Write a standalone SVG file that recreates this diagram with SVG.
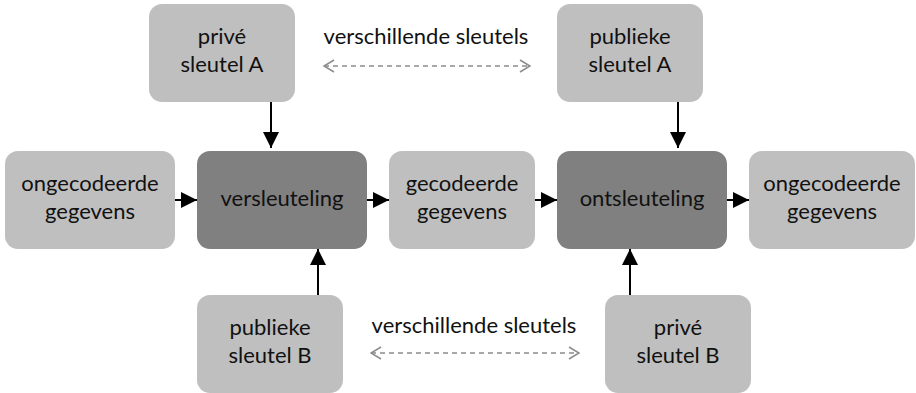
<svg xmlns="http://www.w3.org/2000/svg" width="916" height="393" viewBox="0 0 916 393">
<style>
.light{fill:#bfbfbf}
.dark{fill:#808080}
text{font-family:Lato,"Liberation Sans",Arial,sans-serif;font-size:22px;fill:#111;text-anchor:middle}
.conn{stroke:#000;stroke-width:2;fill:none}
.dash{stroke:#8c8c8c;stroke-width:1.5;stroke-dasharray:5 4;fill:none}
</style>
<defs>
<marker id="big" viewBox="0 0 16 16" refX="16" refY="8" markerWidth="16" markerHeight="16" markerUnits="userSpaceOnUse" orient="auto">
<path d="M0,0 L16,8 L0,16 z" fill="#000"/>
</marker>
<marker id="open" viewBox="0 0 12 14" refX="11" refY="7" markerWidth="12" markerHeight="14" markerUnits="userSpaceOnUse" orient="auto-start-reverse">
<path d="M1,1 L11,7 L1,13" fill="none" stroke="#8c8c8c" stroke-width="1.5"/>
</marker>
</defs>
<g id="prive-a"><rect class="light" x="149" y="4" width="146" height="98" rx="13"/><text x="222" y="44">privé</text><text x="222" y="72">sleutel A</text></g>
<g id="publieke-a"><rect class="light" x="557" y="4" width="146" height="98" rx="13"/><text x="630" y="44">publieke</text><text x="630" y="72">sleutel A</text></g>
<g id="ongecodeerde-in"><rect class="light" x="5" y="151" width="170" height="98" rx="13"/><text x="90" y="191">ongecodeerde</text><text x="90" y="219">gegevens</text></g>
<g id="versleuteling"><rect class="dark" x="197" y="151" width="170" height="98" rx="13"/><text x="282" y="206">versleuteling</text></g>
<g id="gecodeerde"><rect class="light" x="389" y="151" width="146" height="98" rx="13"/><text x="462" y="191">gecodeerde</text><text x="462" y="219">gegevens</text></g>
<g id="ontsleuteling"><rect class="dark" x="557" y="151" width="170" height="98" rx="13"/><text x="642" y="206">ontsleuteling</text></g>
<g id="ongecodeerde-out"><rect class="light" x="749" y="151" width="166" height="98" rx="13"/><text x="832" y="191">ongecodeerde</text><text x="832" y="219">gegevens</text></g>
<g id="publieke-b"><rect class="light" x="197" y="295" width="146" height="98" rx="13"/><text x="270" y="335">publieke</text><text x="270" y="363">sleutel B</text></g>
<g id="prive-b"><rect class="light" x="605" y="295" width="146" height="98" rx="13"/><text x="678" y="335">privé</text><text x="678" y="363">sleutel B</text></g>
<g id="label-top"><text x="426" y="44">verschillende sleutels</text></g>
<g id="label-bottom"><text x="474" y="333">verschillende sleutels</text></g>
<g id="connectors">
<path class="conn" d="M271,102 V148" marker-end="url(#big)"/>
<path class="conn" d="M678,102 V148" marker-end="url(#big)"/>
<path class="conn" d="M318,295 V249" marker-end="url(#big)"/>
<path class="conn" d="M630,295 V249" marker-end="url(#big)"/>
<path class="conn" d="M175,200 H197" marker-end="url(#big)"/>
<path class="conn" d="M367,200 H389" marker-end="url(#big)"/>
<path class="conn" d="M535,200 H557" marker-end="url(#big)"/>
<path class="conn" d="M727,200 H749" marker-end="url(#big)"/>
<path class="dash" d="M324,66 H530" marker-start="url(#open)" marker-end="url(#open)"/>
<path class="dash" d="M371,353 H579" marker-start="url(#open)" marker-end="url(#open)"/>
</g>
</svg>
